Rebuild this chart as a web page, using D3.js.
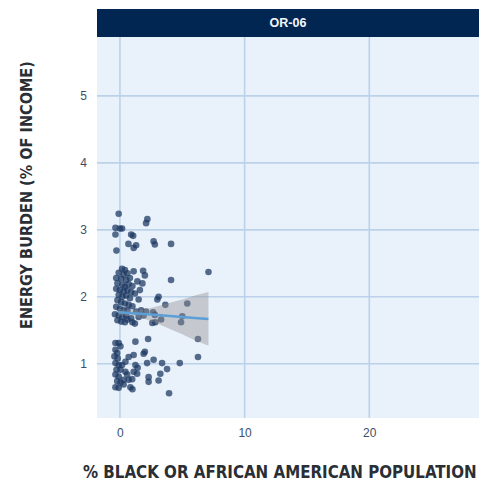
<!DOCTYPE html>
<html>
<head>
<meta charset="utf-8">
<script src="https://cdn.jsdelivr.net/npm/d3@7"></script>
<style>
  html, body { margin: 0; padding: 0; background: #fff; }
  svg { display: block; }
  .tick text { font-family: "Liberation Sans", Arial, sans-serif; font-size: 12px; fill: #3b4f69; }
  .domain { display: none; }
  .title { font-family: "Liberation Sans Narrow", "DejaVu Sans Condensed", sans-serif; font-weight: bold; fill: #2a2e35; }
</style>
</head>
<body>
<div id="chart"></div>
<script>
// panel title and axis titles
const panelTitle = 'OR-06'
const xTitle = '% BLACK OR AFRICAN AMERICAN POPULATION'
const yTitle = 'ENERGY BURDEN (% OF INCOME)'

const xTicks = [0, 10, 20]
const yTicks = [1, 2, 3, 4, 5]

// tracts: [% black population, energy burden %]
const points = [
  [-0.1, 3.24], [2.2, 3.16], [2.1, 3.10], [-0.36, 3.03], [0.0, 3.02], [0.17, 3.02],
  [-0.36, 2.93], [0.9, 2.93], [1.06, 2.91], [2.7, 2.83], [2.8, 2.78], [4.1, 2.79],
  [0.68, 2.79], [1.1, 2.73], [1.3, 2.77], [-0.28, 2.69],
  [0.17, 2.42], [0.4, 2.40], [-0.1, 2.36], [0.3, 2.33], [0.6, 2.35], [1.1, 2.38],
  [1.86, 2.39], [2.0, 2.32], [-0.3, 2.28], [0.1, 2.27], [0.5, 2.25], [0.8, 2.28],
  [1.4, 2.23], [1.8, 2.20], [-0.2, 2.20], [0.2, 2.18], [0.4, 2.15], [0.7, 2.19],
  [1.0, 2.16], [-0.3, 2.12], [0.0, 2.10], [0.3, 2.08], [0.6, 2.10], [0.9, 2.07],
  [1.2, 2.05], [1.6, 2.10], [-0.1, 2.03], [0.2, 2.00], [0.5, 2.02], [0.8, 1.98],
  [1.5, 1.96], [4.1, 2.25], [7.1, 2.37],
  [-0.2, 1.95], [0.1, 1.92], [0.4, 1.90], [0.7, 1.88], [1.0, 1.86], [3.1, 2.0],
  [3.0, 1.96], [3.64, 1.88], [5.4, 1.9], [-0.3, 1.85], [0.0, 1.82], [0.3, 1.80],
  [0.6, 1.80], [1.3, 1.78], [1.7, 1.80], [2.1, 1.78], [2.66, 1.77], [2.8, 1.73],
  [-0.4, 1.74], [-0.1, 1.72], [0.2, 1.70], [0.5, 1.72], [0.9, 1.68], [1.5, 1.70],
  [1.9, 1.72], [3.3, 1.66], [2.6, 1.61], [2.84, 1.62], [5.0, 1.71], [4.9, 1.62],
  [-0.2, 1.65], [0.1, 1.63], [0.4, 1.62], [1.0, 1.62], [0.6, 1.66], [1.2, 1.60],
  [-0.36, 1.31], [-0.1, 1.31], [0.04, 1.26], [-0.36, 1.21], [-0.22, 1.16], [-0.44, 1.11],
  [-0.18, 1.08], [-0.36, 1.01], [-0.1, 0.98], [-0.28, 0.91], [0.04, 0.91], [-0.36, 0.84],
  [-0.1, 0.81], [-0.22, 0.74], [0.04, 0.72], [0.3, 0.69], [-0.36, 0.65], [-0.1, 0.64],
  [0.84, 0.65], [1.0, 0.62], [1.24, 1.33], [2.26, 1.37], [1.1, 1.13], [0.7, 1.10],
  [0.44, 1.03], [0.17, 0.98], [1.24, 0.98], [1.42, 0.94], [1.1, 0.88], [1.38, 0.85],
  [0.44, 0.88], [0.58, 0.84], [0.7, 0.76], [0.98, 0.77], [0.3, 0.76], [2.18, 1.01],
  [2.7, 1.06], [2.3, 0.80], [2.3, 0.73], [3.38, 1.01], [3.78, 0.92], [3.24, 0.85],
  [3.1, 0.75], [3.94, 0.56], [6.26, 1.37], [6.26, 1.10], [4.8, 1.01], [2.0, 1.18],
  [1.9, 1.15]
]

// fitted trend with confidence band
const fitX = [-0.1, 1, 2, 3, 4, 5, 6, 7.1]
const fitY = [1.77, 1.756, 1.742, 1.728, 1.714, 1.70, 1.685, 1.67]
const fitLo = [1.72, 1.72, 1.67, 1.60, 1.52, 1.44, 1.35, 1.27]
const fitHi = [1.82, 1.80, 1.81, 1.86, 1.91, 1.96, 2.02, 2.07]

const width = 483
const height = 484
const panel = { left: 97, right: 479, top: 37, bottom: 418 }

const svg = d3.select('#chart').append('svg')
  .attr('width', width)
  .attr('height', height)

const x = d3.scaleLinear().domain([-1.84, 28.8]).range([panel.left, panel.right])
const y = d3.scaleLinear().domain([0.19, 5.88]).range([panel.bottom, panel.top])

// panel background
svg.append('rect')
  .attr('x', panel.left)
  .attr('y', panel.top)
  .attr('width', panel.right - panel.left)
  .attr('height', panel.bottom - panel.top)
  .attr('fill', '#e9f1fb')

// grid
const grid = svg.append('g')
grid.selectAll('line.h')
  .data(yTicks)
  .enter().append('line')
  .attr('x1', panel.left)
  .attr('x2', panel.right)
  .attr('y1', d => y(d))
  .attr('y2', d => y(d))
  .attr('stroke', '#bcd1ea')
  .attr('stroke-width', 1.6)
grid.selectAll('line.v')
  .data(xTicks)
  .enter().append('line')
  .attr('y1', panel.top)
  .attr('y2', panel.bottom)
  .attr('x1', d => x(d))
  .attr('x2', d => x(d))
  .attr('stroke', '#bcd1ea')
  .attr('stroke-width', 1.6)

// header strip
svg.append('rect')
  .attr('x', panel.left)
  .attr('y', 9)
  .attr('width', panel.right - panel.left)
  .attr('height', 28)
  .attr('fill', '#022652')
svg.append('text')
  .attr('x', (panel.left + panel.right) / 2)
  .attr('y', 27)
  .attr('text-anchor', 'middle')
  .style('font-family', '"Liberation Sans", Arial, sans-serif')
  .style('font-weight', 'bold')
  .style('font-size', '12.5px')
  .style('fill', '#f4f6fa')
  .text(panelTitle)

// axes (labels only)
svg.append('g')
  .attr('transform', `translate(${panel.left - 4},0)`)
  .call(d3.axisLeft(y).tickValues(yTicks).tickSize(0).tickPadding(6).tickFormat(d3.format('d')))
svg.append('g')
  .attr('transform', `translate(0,${panel.bottom})`)
  .call(d3.axisBottom(x).tickValues(xTicks).tickSize(0).tickPadding(10).tickFormat(d3.format('d')))

// points
svg.append('g').selectAll('circle')
  .data(points)
  .enter().append('circle')
  .attr('cx', d => x(d[0]))
  .attr('cy', d => y(d[1]))
  .attr('r', 3.3)
  .attr('fill', '#1b365f')
  .attr('fill-opacity', 0.72)

// confidence band and trend
const fit = fitX.map((v, i) => ({ x: v, y: fitY[i], lo: fitLo[i], hi: fitHi[i] }))
svg.append('path')
  .datum(fit)
  .attr('d', d3.area().x(d => x(d.x)).y0(d => y(d.lo)).y1(d => y(d.hi)))
  .attr('fill', '#8f8f8f')
  .attr('fill-opacity', 0.4)
svg.append('path')
  .datum(fit)
  .attr('d', d3.line().x(d => x(d.x)).y(d => y(d.y)))
  .attr('fill', 'none')
  .attr('stroke', '#5b9fd6')
  .attr('stroke-width', 2.5)

// axis titles, font size fitted to the span they take in the original
function fitTitle (sel, span) {
  sel.style('font-size', '20px')
  const w = sel.node().getComputedTextLength()
  sel.style('font-size', (20 * span / w) + 'px')
}

const xt = svg.append('text')
  .attr('class', 'title')
  .attr('x', 83)
  .attr('y', 478)
  .text(xTitle)
fitTitle(xt, 394)

const yt = svg.append('text')
  .attr('class', 'title')
  .attr('transform', 'translate(32,329) rotate(-90)')
  .text(yTitle)
fitTitle(yt, 268)
</script>
</body>
</html>
